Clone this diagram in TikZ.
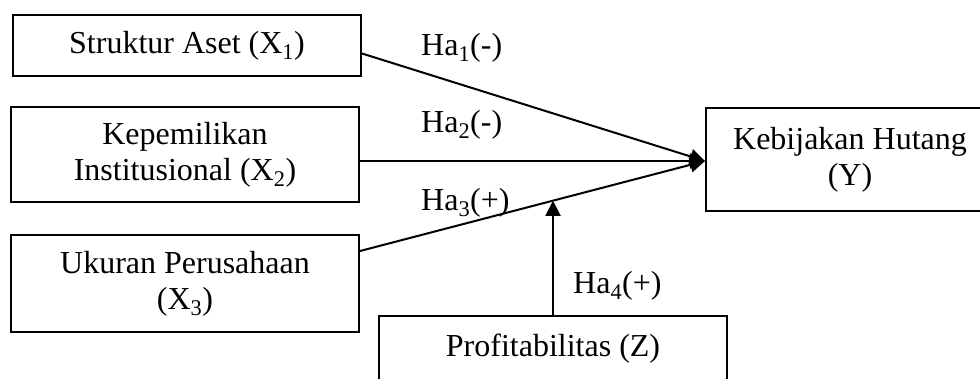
\documentclass[tikz,border=0pt]{standalone}
\usepackage{fontspec}
\setmainfont{Liberation Serif}
\usetikzlibrary{calc,arrows.meta}

\begin{document}
\begin{tikzpicture}[x=1pt,y=-1pt,>={Triangle[length=15pt,width=15pt]},
    font=\fontsize{32pt}{36pt}\selectfont,
    boite/.style={draw, line width=2pt, minimum width=348pt, align=center, inner sep=0pt},
    fleche/.style={->, line width=2pt},
    hyp/.style={anchor=base west, inner sep=0pt}]

    % Cadre de la figure
    \useasboundingbox (0,0) rectangle (980,378);
    \clip (0,0) rectangle (980,378);

    % Variables independantes X1, X2, X3
    \node[boite, minimum height=61pt] (x1) at (187,45.5) {Struktur Aset (X\textsubscript{1})};
    \node[boite, minimum height=95pt] (x2) at (185,154.5) {Kepemilikan\\Institusional (X\textsubscript{2})};
    \node[boite, minimum height=97pt] (x3) at (185,283.5) {Ukuran Perusahaan\\(X\textsubscript{3})};

    % Variable dependante Y et moderatrice Z
    \node[boite, minimum width=288pt, minimum height=103pt] (y) at (850,159.5) {Kebijakan Hutang\\(Y)};
    \node[boite, anchor=north, inner ysep=18pt, text height=22pt, text depth=60pt] (z) at (553,315) {Profitabilitas (Z)};

    % Points de depart et d'arrivee des fleches
    \coordinate (d1) at ($(x1.east)+(0,8)$);
    \coordinate (d2) at ($(x2.east)+(0,6.5)$);
    \coordinate (d3) at ($(x3.north east)+(0,17)$);
    \coordinate (cible) at ($(y.west)+(0,1.5)$);

    % Fleches vers Y
    \draw[fleche] (d1) -- (cible);
    \draw[fleche] (d2) -- (cible);
    \draw[fleche] (d3) -- (cible) coordinate[pos=0.558] (mod);
    \draw[fleche] (z.north) -- (z.north |- mod);

    % Hypotheses
    \node[hyp] (h1) at (421,55) {Ha\textsubscript{1}(-)};
    \node[hyp] (h2) at (421,132) {Ha\textsubscript{2}(-)};
    \node[hyp] (h3) at (421,210) {Ha\textsubscript{3}(+)};
    \node[hyp] (h4) at (573,293) {Ha\textsubscript{4}(+)};
\end{tikzpicture}
\end{document}
